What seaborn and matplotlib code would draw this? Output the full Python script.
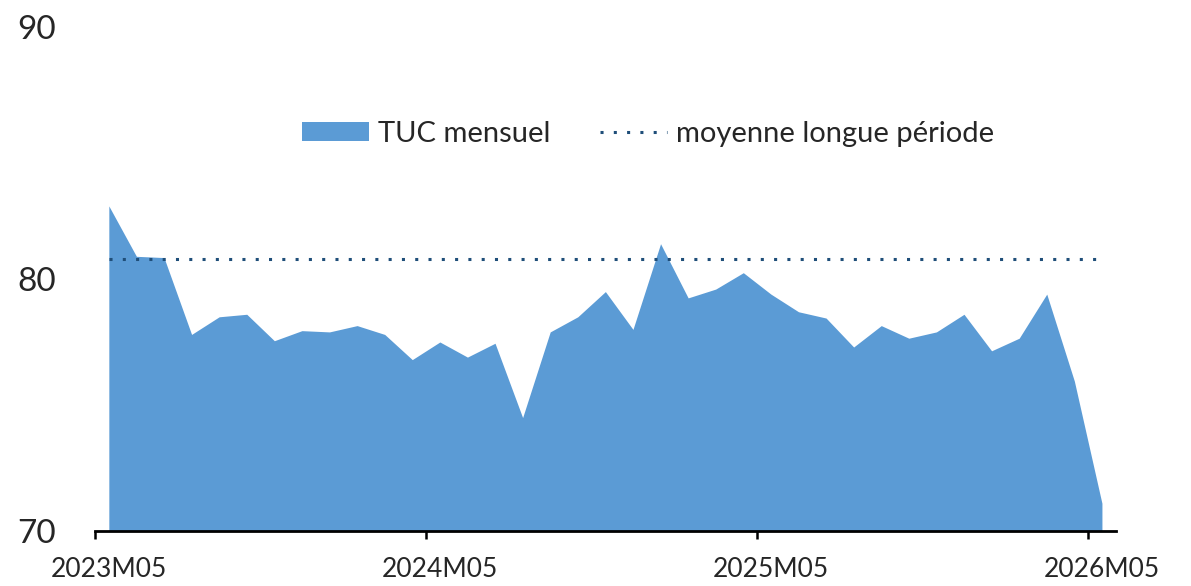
import matplotlib.pyplot as plt
import seaborn as sns
import numpy as np
import pandas as pd

# ── données : TUC mensuel (2023M05 → 2026M05) ──────────────────
tuc_mensuel = [
    82.9, 80.9, 80.85, 77.8, 78.5, 78.6, 77.55, 77.95, 77.9, 78.15,
    77.8, 76.8, 77.5, 76.9, 77.45, 74.5, 77.9, 78.5, 79.5, 78.0,
    81.4, 79.25, 79.6, 80.25, 79.4, 78.7, 78.45, 77.3, 78.15, 77.65,
    77.9, 78.6, 77.15, 77.65, 79.4, 75.95, 71.1,
]
moyenne_lp = 80.8
tick_labels = ["2023M05", "2024M05", "2025M05", "2026M05"]
tick_idx = [0, 12, 24, 36]

df = pd.DataFrame({"x": np.arange(len(tuc_mensuel)) + 0.5,
                   "tuc": tuc_mensuel})
df["moyenne"] = moyenne_lp

# ── style ──────────────────────────────────────────────────────
sns.set_style("white")
plt.rcParams["font.family"] = ["Lato", "DejaVu Sans"]

fig = plt.figure(figsize=(11.91, 5.86), dpi=100)
ax = fig.add_axes([0.0798, 0.0939, 0.857, 0.86])

ax.fill_between(df["x"], df["tuc"], 70, color="#5B9BD5", lw=0,
                label="TUC mensuel")
sns.lineplot(data=df, x="x", y="moyenne", ax=ax, color="#1F4E79",
             lw=2.2, linestyle=(0, (1, 3.35)), label="moyenne longue période")

ax.set_xlim(0, len(tuc_mensuel))
ax.set_ylim(70, 90)
ax.set_yticks([70, 80, 90])
ax.set_xlabel("")
ax.set_ylabel("")

# étiquettes centrées sur les mois, graduations entre catégories
ax.set_xticks([i + 0.5 for i in tick_idx])
ax.set_xticklabels(tick_labels)
ax.set_xticks(tick_idx, minor=True)
ax.tick_params(axis="x", which="major", length=0, pad=19, labelsize=19)
ax.tick_params(axis="x", which="minor", length=6, width=1.8,
               direction="out", color="black", bottom=True)
ax.tick_params(axis="y", length=0, pad=28, labelsize=24)

for s in ["top", "right", "left"]:
    ax.spines[s].set_visible(False)
ax.spines["bottom"].set_color("black")
ax.spines["bottom"].set_linewidth(2)

ax.legend(loc="center", bbox_to_anchor=(0.542, 0.788), ncol=2,
          frameon=False, fontsize=21, handlelength=2.3, handleheight=0.6,
          handletextpad=0.3, columnspacing=1.7)

plt.savefig("out.png", dpi=100)
